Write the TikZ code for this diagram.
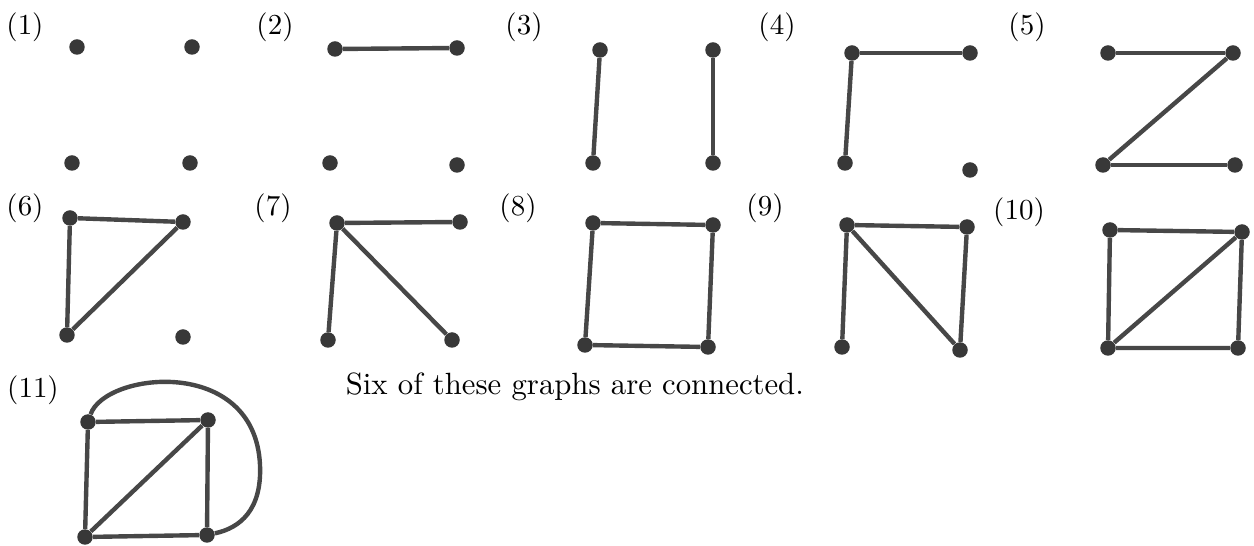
\documentclass[tikz,border=0pt]{standalone}
\usepackage{xcolor}
\usepackage{tikz}

\begin{document}
\begin{tikzpicture}[x=0.02cm, y=-0.02cm,
		vtx/.style={circle, fill=black!78, inner sep=0pt, minimum size=0.31cm},
		lbl/.style={scale=1.65},
		ln/.style={draw=black!72, line width=2.5pt}]
		\useasboundingbox (0,0) rectangle (1254,546);

		% row one
		\node[lbl] (l1) at (25,27) {(1)};
		\node[vtx] (g1tl) at (77,47) {};
		\node[vtx] (g1tr) at (192,47) {};
		\node[vtx] (g1bl) at (72,163) {};
		\node[vtx] (g1br) at (190,163) {};

		\node[lbl] (l2) at (275,27) {(2)};
		\node[vtx] (g2tl) at (335,49) {};
		\node[vtx] (g2tr) at (457,48) {};
		\node[vtx] (g2bl) at (330,163) {};
		\node[vtx] (g2br) at (457,165) {};
		\draw[ln] (g2tl) -- (g2tr);

		\node[lbl] (l3) at (524,27) {(3)};
		\node[vtx] (g3tl) at (600,50) {};
		\node[vtx] (g3bl) at (593,163) {};
		\node[vtx] (g3tr) at (713,50) {};
		\node[vtx] (g3br) at (713,163) {};
		\draw[ln] (g3tl) -- (g3bl);
		\draw[ln] (g3tr) -- (g3br);

		\node[lbl] (l4) at (777,27) {(4)};
		\node[vtx] (g4tl) at (852,53) {};
		\node[vtx] (g4tr) at (970,53) {};
		\node[vtx] (g4bl) at (845,163) {};
		\node[vtx] (g4br) at (970,170) {};
		\draw[ln] (g4tl) -- (g4tr);
		\draw[ln] (g4tl) -- (g4bl);

		\node[lbl] (l5) at (1027,27) {(5)};
		\node[vtx] (g5tl) at (1108,53) {};
		\node[vtx] (g5tr) at (1233,53) {};
		\node[vtx] (g5bl) at (1103,165) {};
		\node[vtx] (g5br) at (1235,165) {};
		\draw[ln] (g5tl) -- (g5tr);
		\draw[ln] (g5tr) -- (g5bl);
		\draw[ln] (g5bl) -- (g5br);

		% row two
		\node[lbl] (l6) at (25,208) {(6)};
		\node[vtx] (g6tl) at (70,218) {};
		\node[vtx] (g6tr) at (183,222) {};
		\node[vtx] (g6bl) at (67,335) {};
		\node[vtx] (g6br) at (183,337) {};
		\draw[ln] (g6tl) -- (g6tr);
		\draw[ln] (g6tl) -- (g6bl);
		\draw[ln] (g6tr) -- (g6bl);

		\node[lbl] (l7) at (273,208) {(7)};
		\node[vtx] (g7tl) at (337,223) {};
		\node[vtx] (g7tr) at (460,222) {};
		\node[vtx] (g7bl) at (328,340) {};
		\node[vtx] (g7br) at (452,340) {};
		\draw[ln] (g7tl) -- (g7tr);
		\draw[ln] (g7tl) -- (g7bl);
		\draw[ln] (g7tl) -- (g7br);

		\node[lbl] (l8) at (518,208) {(8)};
		\node[vtx] (g8tl) at (593,223) {};
		\node[vtx] (g8tr) at (713,225) {};
		\node[vtx] (g8bl) at (585,345) {};
		\node[vtx] (g8br) at (708,347) {};
		\draw[ln] (g8tl) -- (g8tr) -- (g8br) -- (g8bl) -- (g8tl);

		\node[lbl] (l9) at (765,208) {(9)};
		\node[vtx] (g9tl) at (847,225) {};
		\node[vtx] (g9tr) at (967,227) {};
		\node[vtx] (g9bl) at (842,347) {};
		\node[vtx] (g9br) at (960,350) {};
		\draw[ln] (g9tl) -- (g9tr);
		\draw[ln] (g9tl) -- (g9bl);
		\draw[ln] (g9tr) -- (g9br);
		\draw[ln] (g9tl) -- (g9br);

		\node[lbl] (l10) at (1019,212) {(10)};
		\node[vtx] (g10tl) at (1110,230) {};
		\node[vtx] (g10tr) at (1242,232) {};
		\node[vtx] (g10bl) at (1108,348) {};
		\node[vtx] (g10br) at (1238,348) {};
		\draw[ln] (g10tl) -- (g10tr) -- (g10br) -- (g10bl) -- (g10tl);
		\draw[ln] (g10bl) -- (g10tr);

		% row three
		\node[lbl] (l11) at (33,390) {(11)};
		\node[vtx] (g11tl) at (88,422) {};
		\node[vtx] (g11tr) at (208,420) {};
		\node[vtx] (g11bl) at (85,537) {};
		\node[vtx] (g11br) at (207,535) {};
		\coordinate (g11bend) at (260,465);
		\draw[ln] (g11tl) -- (g11tr) -- (g11br) -- (g11bl) -- (g11tl);
		\draw[ln] (g11bl) -- (g11tr);
		\draw[ln] (g11tl) .. controls (105,372) and (255,355) .. (g11bend)
			.. controls (262,510) and (240,528) .. (g11br);

		\node[lbl, scale=1.06, anchor=base west] (note) at (335,395) {Six of these graphs are connected.};
\end{tikzpicture}
\end{document}
